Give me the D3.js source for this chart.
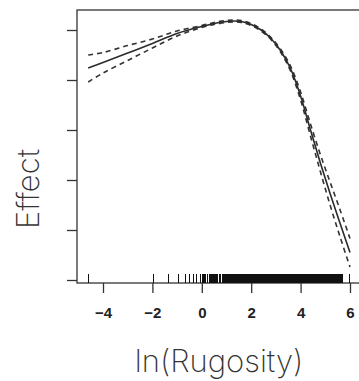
<!DOCTYPE html>
<html>
<head>
<meta charset="utf-8">
<script src="https://cdn.jsdelivr.net/npm/d3@7"></script>
<style>
  html, body { margin: 0; padding: 0; background: #fff; }
  svg { display: block; }
</style>
</head>
<body>
<svg id="chart" width="359" height="381"></svg>
<script>
// Smooth term for ln(Rugosity): fitted effect with pointwise confidence band
const lnRugosity = [-4.6, -4, -3, -2, -1, 0, 0.5, 1, 1.3, 1.6, 2, 2.4, 2.8, 3.2, 3.6, 4.0, 4.4, 4.8, 5.2, 5.6, 6.0];
const effectFit  = [-0.76, -0.65, -0.46, -0.27, -0.07, 0.07, 0.13, 0.17, 0.18, 0.17, 0.11, 0.0, -0.17, -0.42, -0.78, -1.32, -2.0, -2.66, -3.28, -3.87, -4.45];
const effectUpper = [-0.50, -0.45, -0.31, -0.18, -0.02, 0.09, 0.15, 0.19, 0.20, 0.19, 0.13, 0.02, -0.15, -0.39, -0.73, -1.24, -1.88, -2.49, -3.05, -3.60, -4.17];
const effectLower = [-1.04, -0.86, -0.61, -0.36, -0.12, 0.05, 0.11, 0.15, 0.16, 0.15, 0.09, -0.02, -0.19, -0.45, -0.83, -1.40, -2.12, -2.83, -3.51, -4.14, -4.74];

// Observed ln(Rugosity) values shown as a rug along the x axis
const rugValues = [
  -4.57, -1.96, -1.33, -0.96, -0.65, -0.48, -0.34, -0.20, -0.07,
  0.03, 0.09, 0.17, 0.25, 0.32, 0.38, 0.44, 0.50, 0.57, 0.63, 0.70, 0.77, 0.84, 0.90,
  0.97, 1.01, 1.05, 1.09, 1.13, 1.17, 1.21, 1.25, 1.29, 1.33, 1.37, 1.41, 1.45, 1.49,
  1.53, 1.57, 1.61, 1.65, 1.69, 1.73, 1.77, 1.81, 1.85, 1.89, 1.93, 1.97, 2.01, 2.05,
  2.09, 2.13, 2.17, 2.21, 2.25, 2.29, 2.33, 2.37, 2.41, 2.45, 2.49, 2.53, 2.57, 2.61,
  2.65, 2.69, 2.73, 2.77, 2.81, 2.85, 2.89, 2.93, 2.97, 3.01, 3.05, 3.09, 3.13, 3.17,
  3.21, 3.25, 3.29, 3.33, 3.37, 3.41, 3.45, 3.49, 3.53, 3.57, 3.61, 3.65, 3.69, 3.73,
  3.77, 3.81, 3.85, 3.89, 3.93, 3.97, 4.01, 4.05, 4.09, 4.13, 4.17, 4.21, 4.25, 4.29,
  4.33, 4.37, 4.41, 4.45, 4.49, 4.53, 4.57, 4.61, 4.65, 4.69, 4.73, 4.77, 4.81, 4.85,
  4.89, 4.93, 4.97, 5.01, 5.05, 5.09, 5.13, 5.17, 5.21,
  5.26, 5.30, 5.36, 5.44, 5.50, 5.56, 5.62, 5.70, 5.98
];

const xTicks = [-4, -2, 0, 2, 4, 6];
const yTicks = [-5, -4, -3, -2, -1, 0];

const svg = d3.select("#chart");
const frame = { left: 77, top: 10, right: 364, bottom: 283 };

const x = d3.scaleLinear().domain([-4, 6]).range([103, 350]);
const y = d3.scaleLinear().domain([-5, 0]).range([280, 30]);

const ink = "#2b2b2b";

// Plot frame (open on the right where the panel is cut off)
svg.append("rect")
  .attr("x", frame.left).attr("y", frame.top)
  .attr("width", frame.right - frame.left).attr("height", frame.bottom - frame.top)
  .attr("fill", "none").attr("stroke", "#333").attr("stroke-width", 1.3);

// Y axis: ticks only, no labels
const yAxis = d3.axisLeft(y).tickValues(yTicks).tickSize(10).tickFormat("");
svg.append("g").attr("transform", `translate(${frame.left},0)`).call(yAxis)
  .call(g => g.select(".domain").remove())
  .call(g => g.selectAll(".tick line").attr("stroke", "#333").attr("stroke-width", 1.3));

// X axis
const xAxis = d3.axisBottom(x).tickValues(xTicks).tickSize(10).tickPadding(14)
  .tickFormat(d => d < 0 ? "\u2212" + Math.abs(d) : String(d));
svg.append("g").attr("transform", `translate(0,${frame.bottom})`).call(xAxis)
  .call(g => g.select(".domain").remove())
  .call(g => g.selectAll(".tick line").attr("stroke", "#333").attr("stroke-width", 1.3))
  .call(g => g.selectAll(".tick text")
    .attr("font-family", "'Liberation Sans', Arial, sans-serif")
    .attr("font-size", 15).attr("font-weight", "bold").attr("fill", "#222"));

// Rug: closely packed observations get a wider stroke so the dense run reads as solid
const rugGap = (d, i) => {
  const prev = i > 0 ? x(d) - x(rugValues[i - 1]) : Infinity;
  const next = i < rugValues.length - 1 ? x(rugValues[i + 1]) - x(d) : Infinity;
  return Math.min(prev, next);
};
svg.append("g").attr("shape-rendering", "crispEdges")
  .selectAll("line").data(rugValues).join("line")
  .attr("x1", d => x(d)).attr("x2", d => x(d))
  .attr("y1", frame.bottom).attr("y2", frame.bottom - 9)
  .attr("stroke", "#111")
  .attr("stroke-width", (d, i) => rugGap(d, i) < 1.5 ? 2 : 1);

// Curves
const pts = arr => lnRugosity.map((v, i) => [v, arr[i]]);
const line = d3.line().x(d => x(d[0])).y(d => y(d[1])).curve(d3.curveCatmullRom);

svg.append("path").attr("d", line(pts(effectUpper)))
  .attr("fill", "none").attr("stroke", "#333").attr("stroke-width", 1.6)
  .attr("stroke-dasharray", "5,4");
svg.append("path").attr("d", line(pts(effectLower)))
  .attr("fill", "none").attr("stroke", "#333").attr("stroke-width", 1.6)
  .attr("stroke-dasharray", "5,4");
svg.append("path").attr("d", line(pts(effectFit)))
  .attr("fill", "none").attr("stroke", ink).attr("stroke-width", 1.6);

// Axis titles
svg.append("text")
  .attr("x", 219).attr("y", 372)
  .attr("text-anchor", "middle")
  .attr("font-family", "Inter, Roboto, sans-serif")
  .attr("font-weight", 250).attr("font-size", 31).attr("fill", "#333")
  .text("ln(Rugosity)");

svg.append("text")
  .attr("transform", "translate(39,189) rotate(-90)")
  .attr("text-anchor", "middle")
  .attr("font-family", "Inter, Roboto, sans-serif")
  .attr("font-weight", 250).attr("font-size", 31).attr("fill", "#333")
  .text("Effect");
</script>
</body>
</html>
